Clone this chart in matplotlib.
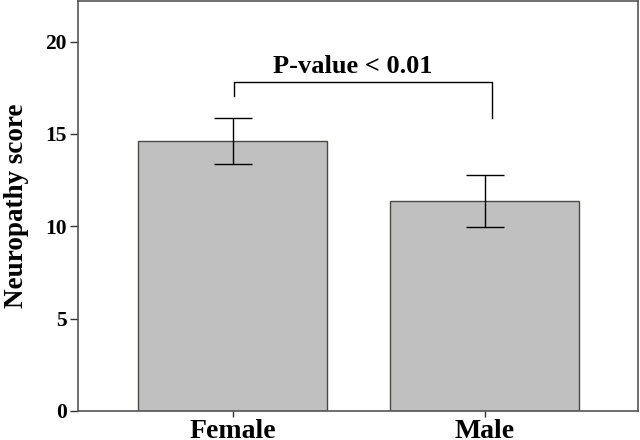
import matplotlib
matplotlib.use("Agg")
import matplotlib.pyplot as plt

categories = ["Female", "Male"]
means = [14.63, 11.37]
errors = [1.24, 1.41]
yticks = [0, 5, 10, 15, 20]
p_text = "P-value < 0.01"

plt.rcParams['font.family'] = ['Liberation Serif', 'DejaVu Serif']

fig = plt.figure(figsize=(6.4, 4.4), dpi=100)
ax = fig.add_axes([0.1219, 0.066, 0.875, 0.932])

x = list(range(len(categories)))
ax.bar(x, means, width=0.75, color="#c0c0c0", edgecolor="#4a4a44", linewidth=1.0, zorder=2)
ax.errorbar(x, means, yerr=errors, fmt="none", ecolor="black", elinewidth=1.0,
            capsize=13.7, capthick=1.0, zorder=3)

ax.set_xlim(-0.613, 1.609)
ax.set_ylim(0, 22.2)
ax.set_yticks(yticks)
ax.set_yticklabels([str(t) for t in yticks], fontsize=15.5, fontweight="bold")
ax.set_xticks(x)
ax.set_xticklabels(categories, fontsize=20, fontweight="bold")
ax.tick_params(axis="y", direction="out", length=6, width=1, color="#333333", pad=2)
ax.tick_params(axis="x", direction="out", length=4, width=1, color="#333333", pad=2)
for s in ax.spines.values():
    s.set_color("#555555")
    s.set_linewidth(1.2)

ax.set_ylabel("Neuropathy score", fontsize=19.5, fontweight="bold", labelpad=12)

# significance bracket
bx0, bx1 = x[0] + 0.006, x[1] + 0.029
btop = 17.8
ax.plot([bx0, bx0, bx1, bx1], [17.07, btop, btop, 15.88], color="black", lw=1.0, zorder=4)
ax.text((bx0 + bx1) / 2 - 0.04, btop + 0.25, p_text, ha="center", va="bottom",
        fontsize=19, fontweight="bold")

fig.savefig("out.png", dpi=100)
